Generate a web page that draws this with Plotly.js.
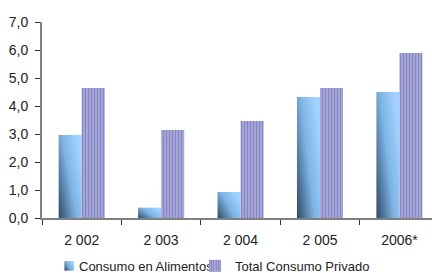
<!DOCTYPE html>
<html>
<head>
<meta charset="utf-8">
<script src="https://cdn.plot.ly/plotly-3.0.1.min.js"></script>
<style>html,body{margin:0;padding:0;background:#fff;}#chart{width:432px;height:273px;}</style>
</head>
<body>
<div id="chart"></div>
<script>
var categories = ["2 002", "2 003", "2 004", "2 005", "2006*"];
var alimentos = [2.96, 0.37, 0.93, 4.32, 4.5];
var totalPrivado = [4.64, 3.14, 3.46, 4.64, 5.89];
var seriesNames = ["Consumo en Alimentos", "Total Consumo Privado"];
var yTicks = [0, 1, 2, 3, 4, 5, 6, 7];

var FONT = "'Liberation Sans', Arial, sans-serif";

var traces = [
  {
    type: "bar", x: categories, y: alimentos, name: seriesNames[0], legend: "legend",
    marker: {color: "#78aad8", line: {width: 0}}
  },
  {
    type: "bar", x: categories, y: totalPrivado, name: seriesNames[1], legend: "legend2",
    marker: {color: "#9d9dd2", line: {width: 0},
      pattern: {shape: "|", bgcolor: "#a4a4d8", fgcolor: "#8585c0", size: 3, solidity: 0.35}}
  }
];

function legendAt(px) {
  return {orientation: "h", x: px / 432, xanchor: "left", xref: "container",
    y: 0.026, yanchor: "middle", yref: "container",
    font: {family: FONT, size: 13, color: "#222"}, itemwidth: 30,
    bgcolor: "rgba(0,0,0,0)"};
}

var layout = {
  width: 432, height: 273,
  margin: {l: 42, r: 0, t: 22, b: 55},
  paper_bgcolor: "#fff", plot_bgcolor: "#fff",
  font: {family: FONT, size: 14, color: "#222"},
  separators: ",.",
  barmode: "group", bargap: 0.42, bargroupgap: 0,
  showlegend: true,
  legend: legendAt(80 - 41),
  legend2: legendAt(236 - 41),
  xaxis: {
    type: "category", range: [-0.5, 4.41], showgrid: false, zeroline: false,
    showline: true, linecolor: "#7f7f7f", linewidth: 2,
    ticks: "outside", tickson: "boundaries", ticklen: 5, tickcolor: "#333", tickwidth: 1,
    tickfont: {family: FONT, size: 14, color: "#222"}, ticklabelstandoff: 8
  },
  yaxis: {
    range: [0, 7], tickvals: yTicks, tickformat: ".1f", showgrid: false, zeroline: false,
    showline: true, linecolor: "#7f7f7f", linewidth: 2,
    ticks: "outside", ticklen: 5, tickcolor: "#333", tickwidth: 1,
    tickfont: {family: FONT, size: 14, color: "#222"}, ticklabelstandoff: 4
  }
};

Plotly.newPlot("chart", traces, layout, {displayModeBar: false, staticPlot: true}).then(function (gd) {
  var svg = gd.querySelector("svg.main-svg");
  var defs = svg.querySelector("defs");
  var ns = "http://www.w3.org/2000/svg";
  var grad = document.createElementNS(ns, "linearGradient");
  grad.setAttribute("id", "barGrad");
  grad.setAttribute("x1", "0"); grad.setAttribute("y1", "1");
  grad.setAttribute("x2", "1"); grad.setAttribute("y2", "0.35");
  [["0", "#2f4a66"], ["0.55", "#7eb3e3"], ["1", "#a2d2ff"]].forEach(function (s) {
    var st = document.createElementNS(ns, "stop");
    st.setAttribute("offset", s[0]); st.setAttribute("stop-color", s[1]);
    grad.appendChild(st);
  });
  defs.appendChild(grad);
  var traceGroups = gd.querySelectorAll(".barlayer .trace");
  if (traceGroups.length) {
    traceGroups[0].querySelectorAll("path").forEach(function (p) {
      p.style.fill = "url(#barGrad)";
    });
  }
  gd.querySelectorAll("g.legendpoints").forEach(function (pts) {
    try {
      var item = pts.closest("g.traces") || pts.parentNode.parentNode.parentNode;
      var txt = item ? item.querySelector("text.legendtext") : null;
      if (!txt) return;
      var isFirst = (txt.textContent || "").indexOf(seriesNames[0]) === 0;
      pts.setAttribute("transform", "translate(15,0) scale(0.8)");
      if (isFirst) {
        pts.querySelectorAll("path").forEach(function (p) { p.style.fill = "url(#barGrad)"; });
      }
      var pr = pts.getBoundingClientRect();
      var tr = txt.getBoundingClientRect();
      var dx = (tr.left - 5) - pr.right;
      if (isFinite(dx)) {
        pts.setAttribute("transform", "translate(" + (15 + dx) + ",0) scale(0.8)");
      }
    } catch (e) {}
  });
});
</script>
</body>
</html>
